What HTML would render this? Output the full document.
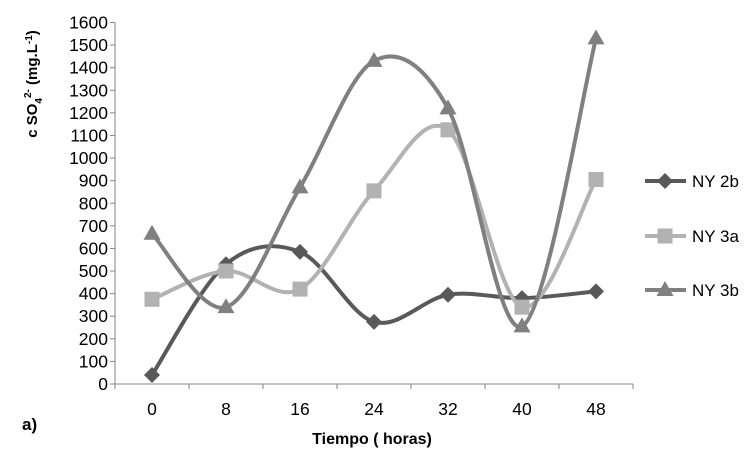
<!DOCTYPE html>
<html><head><meta charset="utf-8"><style>
body{margin:0;background:#fff;}
svg{display:block;font-family:"Liberation Sans",sans-serif;}
</style></head><body>
<svg id="chart" width="751" height="450" viewBox="0 0 751 450">
<g id="axes"></g><g id="plot"></g><g id="legend"></g>
<text transform="translate(37,84) rotate(-90)" text-anchor="middle" font-size="15" font-weight="bold" fill="#000">c SO<tspan font-size="10" dy="5">4</tspan><tspan font-size="10" dy="-11">2-</tspan><tspan dy="6"> (mg.L</tspan><tspan font-size="10" dy="-5">-1</tspan><tspan dy="5">)</tspan></text>
<text x="372" y="444" text-anchor="middle" font-size="16" font-weight="bold">Tiempo ( horas)</text>
<text x="22" y="430" font-size="17" font-weight="bold">a)</text>
</svg>
<script>
const categories=["0","8","16","24","32","40","48"];
const yTicks=[0,100,200,300,400,500,600,700,800,900,1000,1100,1200,1300,1400,1500,1600];
const ny2b=[40,530,585,275,395,380,410];
const ny3a=[375,500,420,855,1125,340,905];
const ny3b=[665,340,870,1430,1220,255,1530];
const seriesNames=["NY 2b","NY 3a","NY 3b"];
const NS="http://www.w3.org/2000/svg";
const x0=115,x1=633,yb=384,yt=22.5;
const xs=i=>x0+(i+0.5)*(x1-x0)/categories.length;
const ys=v=>yb-(v/1600)*(yb-yt);
function mk(t,a,p){const e=document.createElementNS(NS,t);for(const k in a)e.setAttribute(k,a[k]);p.appendChild(e);return e;}
const ax=document.getElementById('axes');
let l=mk('line',{x1:x0,y1:yt,x2:x0,y2:yb,stroke:'#868686','stroke-width':1},ax);

l=mk('line',{x1:x0,y1:yb,x2:x1,y2:yb,stroke:'#868686','stroke-width':1},ax);

yTicks.forEach(v=>{mk('line',{x1:x0-5,y1:ys(v),x2:x0,y2:ys(v),stroke:'#868686'},ax);
const t=mk('text',{x:x0-7,y:ys(v)+6,'text-anchor':'end','font-size':17.5,fill:'#000'},ax);t.textContent=v;
});
for(let i=0;i<=categories.length;i++){const xx=x0+i*(x1-x0)/categories.length;mk('line',{x1:xx,y1:yb,x2:xx,y2:yb+5,stroke:'#868686'},ax);}
categories.forEach((c,i)=>{const t=mk('text',{x:xs(i),y:yb+31,'text-anchor':'middle','font-size':17.5},ax);t.textContent=c;
});
function pathD(vals){const p=vals.map((v,i)=>[xs(i),ys(v)]);let d=`M${p[0][0]},${p[0][1]}`;
for(let i=0;i<p.length-1;i++){const a=p[Math.max(i-1,0)],b=p[i],c=p[i+1],e=p[Math.min(i+2,p.length-1)];
d+=` C${b[0]+(c[0]-a[0])/6},${b[1]+(c[1]-a[1])/6} ${c[0]-(e[0]-b[0])/6},${c[1]-(e[1]-b[1])/6} ${c[0]},${c[1]}`;}return d;}
function marker(type,x,y,col,g){
if(type==='d')return mk('polygon',{points:`${x},${y-8} ${x+8},${y} ${x},${y+8} ${x-8},${y}`,fill:col},g);
if(type==='s')return mk('rect',{x:x-7.5,y:y-7.5,width:15,height:15,fill:col},g);
return mk('polygon',{points:`${x},${y-9} ${x+8.5},${y+6} ${x-8.5},${y+6}`,fill:col},g);}
const series=[[ny2b,'#595959','d','ny-2b'],[ny3a,'#b2b2b2','s','ny-3a'],[ny3b,'#808080','t','ny-3b']];
const plot=document.getElementById('plot'),leg=document.getElementById('legend');
const legY=[181,236,290];
series.forEach(([vals,col,m,name],k)=>{
const g=mk('g',{},plot);
const p=mk('path',{d:pathD(vals),fill:'none',stroke:col,'stroke-width':4,'stroke-linecap':'round'},g);

vals.forEach((v,i)=>{const e=marker(m,xs(i),ys(v),col,g);});
const lg=mk('g',{},leg);
mk('line',{x1:645,y1:legY[k],x2:686,y2:legY[k],stroke:col,'stroke-width':4},lg);
marker(m,665,legY[k],col,lg);
const t=mk('text',{x:692,y:legY[k]+6,'font-size':17},lg);t.textContent=seriesNames[k];
});
</script>
</body></html>
